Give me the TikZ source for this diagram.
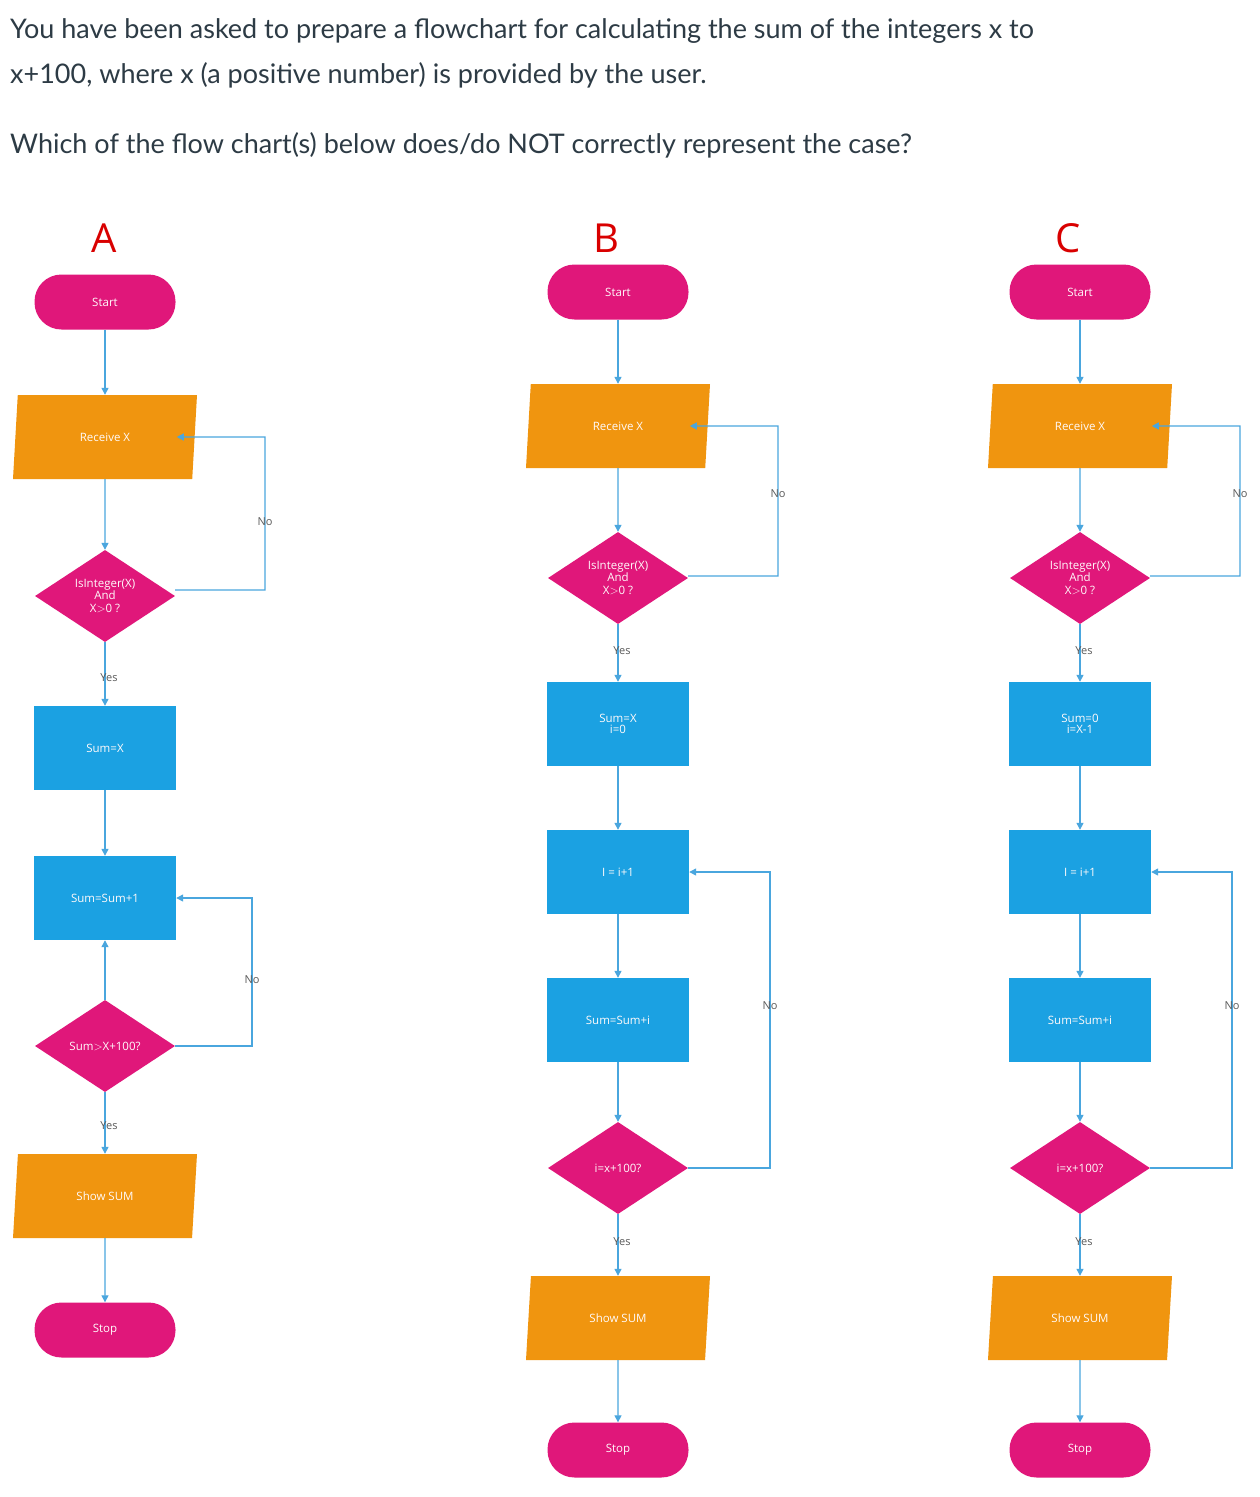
\documentclass[tikz,border=0pt]{standalone}
\usepackage{fontspec}
\setmainfont{Lato}
\newfontfamily\boxfont{Open Sans}
\usetikzlibrary{shapes.geometric,arrows.meta}
\definecolor{pk}{HTML}{E0177A}
\definecolor{org}{HTML}{F0950F}
\definecolor{bl}{HTML}{1BA1E2}
\definecolor{ln}{HTML}{4AA6DE}
\definecolor{txt}{HTML}{2D3B45}
\tikzset{
  lbl/.style={text=white!92!pink,font=\boxfont\fontsize{11.5}{12.5}\selectfont,align=center},
  pill/.style={lbl,fill=pk,rounded corners=27pt,minimum width=141pt,minimum height=55pt,inner sep=0pt},
  para/.style={lbl,fill=org,trapezium,trapezium left angle=60.8,trapezium right angle=119.2,minimum width=184pt,minimum height=84pt,inner sep=0pt,trapezium stretches body},
  dia/.style={lbl,fill=pk,diamond,minimum width=140pt,minimum height=92pt,inner sep=0pt,aspect=1.5},
  rect/.style={lbl,fill=bl,minimum width=142pt,minimum height=84pt,inner sep=0pt},
  arr/.style={draw=ln,line width=1.3pt,-{Triangle[length=7pt,width=7pt]}},
  yn/.style={text=black!65,font=\boxfont\fontsize{11}{12}\selectfont,inner sep=1pt},
  head/.style={text=txt,font=\fontsize{27}{30}\selectfont,anchor=base west,inner sep=0pt},
  letter/.style={text=red!85!black,font=\boxfont\fontsize{40}{40}\selectfont}
}
\begin{document}
\begin{tikzpicture}[x=1pt,y=-1pt]
\useasboundingbox[fill=white] (0,0) rectangle (1259,1497);
\node[head] (h1) at (10,38) {You have been asked to prepare a flowchart for calculating the sum of the integers x to};
\node[head] (h2) at (10,83) {x+100, where x (a positive number) is provided by the user.};
\node[head] (h3) at (10,153) {Which of the flow chart(s) below does/do NOT correctly represent the case?};
% ---------- A ----------
\node[letter] (la) at (104,238) {A};
\node[pill] (a1) at (105,302) {Start};
\node[para] (a2) at (105,437) {Receive X};
\node[dia] (a3) at (105,596) {IsInteger(X)\\And\\X$>$0 ?};
\node[rect] (a4) at (105,748) {Sum=X};
\node[rect] (a5) at (105,898) {Sum=Sum+1};
\node[dia] (a6) at (105,1046) {Sum$>$X+100?};
\node[para] (a7) at (105,1196) {Show SUM};
\node[pill] (a8) at (105,1330) {Stop};
\draw[arr] (a1) -- (a2);
\draw[arr] (a2) -- (a3);
\draw[arr] (a3) -- (a4) node[yn,pos=0.55,xshift=4pt] {Yes};
\draw[arr] (a4) -- (a5);
\draw[arr] (a6) -- (a5);
\draw[arr] (a6) -- (a7) node[yn,pos=0.55,xshift=4pt] {Yes};
\draw[arr] (a7) -- (a8);
\coordinate (ar1) at (265,590);
\draw[arr] (a3.east |- ar1) -- (ar1) -- node[yn,pos=0.45] {No} (ar1 |- a2) -- ([xshift=-18pt]a2.east);
\coordinate (ar2) at (252,1046);
\draw[arr] (a6.east) -- (ar2) -- node[yn,pos=0.45] {No} (ar2 |- a5) -- (a5.east);
% ---------- B and C ----------
\foreach \n/\cx/\ta/\tb/\L in {b/618/Sum=X/i=0/B, c/1080/Sum=0/i=X-1/C} {
  \node[letter] (\n l) at (\cx-12,238) {\L};
  \node[pill] (\n1) at (\cx,292) {Start};
  \node[para] (\n2) at (\cx,426) {Receive X};
  \node[dia] (\n3) at (\cx,578) {IsInteger(X)\\And\\X$>$0 ?};
  \node[rect] (\n4) at (\cx,724) {\ta\\[-2pt]\tb};
  \node[rect] (\n5) at (\cx,872) {I = i+1};
  \node[rect] (\n6) at (\cx,1020) {Sum=Sum+i};
  \node[dia] (\n7) at (\cx,1168) {i=x+100?};
  \node[para] (\n8) at (\cx,1318) {Show SUM};
  \node[pill] (\n9) at (\cx,1450) {Stop};
  \draw[arr] (\n1) -- (\n2);
  \draw[arr] (\n2) -- (\n3);
  \draw[arr] (\n3) -- (\n4) node[yn,pos=0.45,xshift=4pt] {Yes};
  \draw[arr] (\n4) -- (\n5);
  \draw[arr] (\n5) -- (\n6);
  \draw[arr] (\n6) -- (\n7);
  \draw[arr] (\n7) -- (\n8) node[yn,pos=0.45,xshift=4pt] {Yes};
  \draw[arr] (\n8) -- (\n9);
  \coordinate (\n r1) at (\cx+160,576);
  \draw[arr] (\n3.east |- \n r1) -- (\n r1) -- node[yn,pos=0.55] {No} (\n r1 |- \n2) -- ([xshift=-18pt]\n2.east);
  \coordinate (\n r2) at (\cx+152,1168);
  \draw[arr] (\n7.east) -- (\n r2) -- node[yn,pos=0.55] {No} (\n r2 |- \n5) -- (\n5.east);
}
\end{tikzpicture}
\end{document}
